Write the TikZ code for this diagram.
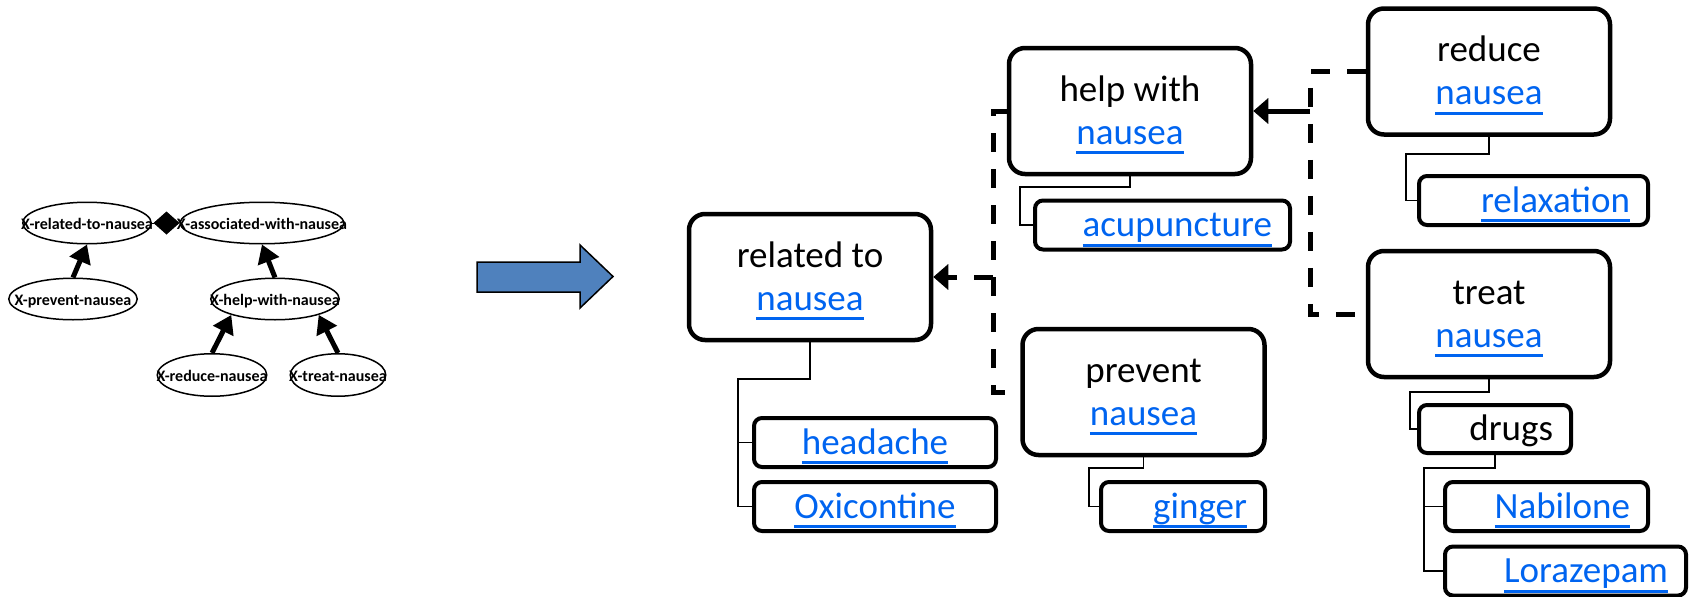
\documentclass[tikz,border=0pt]{standalone}
\usepackage{fontspec}
\setmainfont{Carlito}
\usetikzlibrary{arrows.meta,shapes.geometric}
\definecolor{linkblue}{RGB}{0,100,240}
\definecolor{arrowblue}{HTML}{4F81BD}
\newcommand\lnk[1]{\textcolor{linkblue}{\setbox0\hbox{#1}\rlap{\rule[-10pt]{\wd0}{3pt}}\box0}}
\newcommand\twoline[2]{\vbox{\offinterlineskip\halign{\hfil##\hfil\cr\rule[-10pt]{0pt}{43pt}#1\cr\rule[-10pt]{0pt}{43pt}#2\cr}}}
\newcommand\rt[2]{\hbox to #1pt{\hfil\rule[-10pt]{0pt}{43pt}#2\hskip 18pt}}
\newcommand\ct[1]{\rule[-10pt]{0pt}{43pt}#1}
\tikzset{
  bigbox/.style={draw, line width=4.5pt, rounded corners=16pt, minimum width=242pt, minimum height=126pt, inner sep=0pt, font=\fontsize{37}{43}\selectfont},
  smallbox/.style={draw, line width=4pt, rounded corners=8pt, minimum height=49pt, inner sep=0pt, font=\fontsize{37}{43}\selectfont},
  thinline/.style={line width=1.5pt},
  dashline/.style={line width=5pt, dash pattern=on 19pt off 17pt},
  bigarrow/.style={line width=5pt, -{Triangle[length=15pt,width=25pt]}},
  ell/.style={draw, ellipse, line width=1.5pt, inner sep=0pt, text height=12pt, text depth=0pt, font=\bfseries\fontsize{16}{18}\selectfont},
  garrow/.style={line width=5pt, -{Triangle[length=18pt,width=22pt]}},
}
\begin{document}
\begin{tikzpicture}[x=1pt,y=-1pt]
\useasboundingbox (0,0) rectangle (1690,597);
% ---- left graph ----
\node[ell, minimum width=128.5, minimum height=41.5] (erel) at (87,223) {\makebox[0pt]{X-related-to-nausea}};
\node[ell, minimum width=163.5, minimum height=41.5] (eassoc) at (262,223) {\makebox[0pt]{X-associated-with-nausea}};
\node[ell, minimum width=128.5, minimum height=41.5] (eprev) at (73,299) {\makebox[0pt]{X-prevent-nausea}};
\node[ell, minimum width=128.5, minimum height=41.5] (ehelp) at (275,299) {\makebox[0pt]{X-help-with-nausea}};
\node[ell, minimum width=109.5, minimum height=42.5] (ered) at (212,375) {\makebox[0pt]{X-reduce-nausea}};
\node[ell, minimum width=95.5, minimum height=42.5] (etreat) at (338,375) {\makebox[0pt]{X-treat-nausea}};
\draw[line width=1pt, -{Diamond[length=26pt,width=23pt]}] (erel) -- (eassoc);
\draw[garrow] (eprev.north) -- (erel.south);
\draw[garrow] (ehelp.north) -- (eassoc.south);
\draw[garrow] (ered.north) -- (ehelp.200);
\draw[garrow] (etreat.north) -- (ehelp.340);
% ---- blue arrow ----
\draw[line width=1.5pt, fill=arrowblue] (477,262) -- (580,262) -- (580,245) -- (613,276.5) -- (580,308) -- (580,292) -- (477,292) -- cycle;
% ---- right tree ----
\node[bigbox] (rel) at (810,277) {\twoline{related to}{\lnk{nausea}}};
\node[bigbox] (help) at (1130,111) {\twoline{help with}{\lnk{nausea}}};
\node[bigbox] (prev) at (1143.5,392) {\twoline{prevent}{\lnk{nausea}}};
\node[bigbox] (red) at (1489,71.5) {\twoline{reduce}{\lnk{nausea}}};
\node[bigbox] (treat) at (1489,314) {\twoline{treat}{\lnk{nausea}}};
\node[smallbox, minimum width=242] (head) at (875,442.5) {\ct{\lnk{headache}}};
\node[smallbox, minimum width=242] (oxi) at (875,506.5) {\ct{\lnk{Oxicontine}}};
\node[smallbox, minimum width=255] (acu) at (1162.5,225) {\rt{255}{\lnk{acupuncture}}};
\node[smallbox, minimum width=164] (gin) at (1183,506.5) {\rt{164}{\lnk{ginger}}};
\node[smallbox, minimum width=229] (relax) at (1533.5,200.5) {\rt{229}{\lnk{relaxation}}};
\node[smallbox, minimum width=152, minimum height=48] (drugs) at (1495,429) {\rt{152}{drugs}};
\node[smallbox, minimum width=203] (nab) at (1546.5,506.5) {\rt{203}{\lnk{Nabilone}}};
\node[smallbox, minimum width=241] (lor) at (1565.5,571) {\rt{241}{\lnk{Lorazepam}}};
% thin connectors
\coordinate (k1) at (738,379);
\draw[thinline] (rel.south) |- (k1) |- (head.west);
\draw[thinline] (k1) |- (oxi.west);
\coordinate (k2) at (1020,187);
\draw[thinline] (help.south) |- (k2) |- (acu.west);
\coordinate (k3) at (1089,468);
\draw[thinline] (prev.south) |- (k3) |- (gin.west);
\coordinate (k4) at (1406,154);
\draw[thinline] (red.south) |- (k4) |- (relax.west);
\coordinate (k5) at (1410,392);
\draw[thinline] (treat.south) |- (k5) |- (drugs.west);
\coordinate (k6) at (1424,468);
\draw[thinline] (drugs.south) |- (k6) |- (nab.west);
\draw[thinline] (k6) |- (lor.west);
% dashed connectors
\coordinate (jl) at (993,277);
\draw[dashline] (help.west) -| (jl) |- (prev.west);
\draw[dashline, -{Triangle[length=15pt,width=25pt]}] (jl) -- (rel.east);
\coordinate (jr) at (1310,111);
\draw[dashline] (red.west) -| (jr) |- (treat.west);
\draw[bigarrow] (jr) -- (help.east);
\end{tikzpicture}
\end{document}
